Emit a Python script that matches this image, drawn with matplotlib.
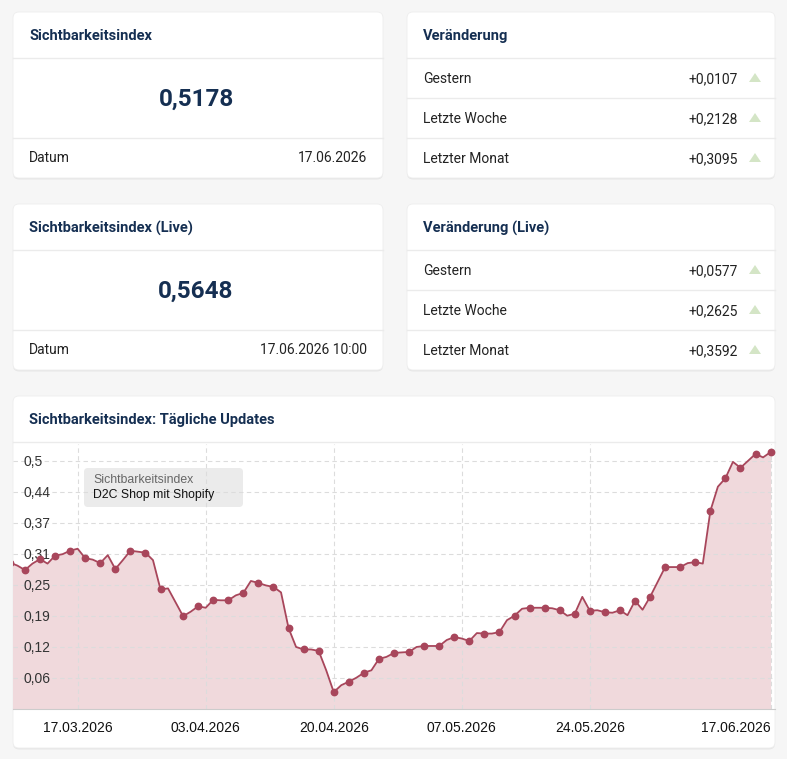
import numpy as np
import pandas as pd
import matplotlib
matplotlib.use("Agg")
import matplotlib.pyplot as plt
from matplotlib.patches import FancyBboxPatch, Polygon

# --- data -------------------------------------------------------------
dates = pd.date_range("2026-03-08", "2026-06-17").drop(pd.Timestamp("2026-03-30"))
values = [
    0.295, 0.289, 0.280, 0.293, 0.302, 0.293, 0.309, 0.312, 0.319, 0.323,  # 08.03-17.03
    0.304, 0.301, 0.294, 0.310, 0.282, 0.300, 0.319, 0.317, 0.315, 0.300,  # 18.03-27.03
    0.241, 0.243, 0.187,                                                    # 28.03, 29.03, 31.03
    0.196, 0.207, 0.204, 0.220, 0.219, 0.219, 0.229, 0.234, 0.258, 0.254,  # 01.04-10.04
    0.249, 0.246, 0.235, 0.163, 0.125, 0.120, 0.120, 0.117, 0.078, 0.034,  # 11.04-20.04
    0.048, 0.055, 0.063, 0.073, 0.078, 0.101, 0.105, 0.113, 0.114, 0.115,  # 21.04-30.04
    0.125, 0.127, 0.127, 0.127, 0.139, 0.145, 0.142, 0.137, 0.153, 0.152,  # 01.05-10.05
    0.152, 0.155, 0.179, 0.188, 0.202, 0.204, 0.204, 0.204, 0.203, 0.199,  # 11.05-20.05
    0.188, 0.192, 0.226, 0.198, 0.199, 0.195, 0.194, 0.199, 0.189, 0.218,  # 21.05-30.05
    0.200,                                                                  # 31.05
    0.226, 0.256, 0.286, 0.286, 0.286, 0.294, 0.296, 0.293, 0.399, 0.448,  # 01.06-10.06
    0.465, 0.498, 0.486, 0.500, 0.514, 0.507, 0.5178,                      # 11.06-17.06
]

tick_dates = pd.to_datetime(["2026-03-17", "2026-04-03", "2026-04-20",
                             "2026-05-07", "2026-05-24", "2026-06-17"])
tick_labels = ["17.03.2026", "03.04.2026", "20.04.2026",
               "07.05.2026", "24.05.2026", "17.06.2026"]
y_ticks = [0.0625, 0.125, 0.1875, 0.25, 0.3125, 0.375, 0.4375, 0.5]
y_labels = ["0,06", "0,12", "0,19", "0,25", "0,31", "0,37", "0,44", "0,5"]

index_value = "0,5178"
index_date = "17.06.2026"
live_value = "0,5648"
live_date = "17.06.2026 10:00"
change_rows = ["Gestern", "Letzte Woche", "Letzter Monat"]
change_vals = ["+0,0107", "+0,2128", "+0,3095"]
change_live_vals = ["+0,0577", "+0,2625", "+0,3592"]

# --- styles -----------------------------------------------------------
W, H = 787, 759
NAVY = "#152f52"
TEXT = "#222222"
LINE = "#a8465b"
FILL = "#f0d9dc"
DIV = "#ebebeb"
GREEN = "#d4e5c6"

plt.rcParams["font.family"] = ["Roboto", "DejaVu Sans"]

fig = plt.figure(figsize=(W / 100, H / 100), dpi=100, facecolor="#f6f6f6")
bg = fig.add_axes([0, 0, 1, 1])
bg.set_xlim(0, W)
bg.set_ylim(H, 0)
bg.axis("off")


def card(x0, y0, x1, y1):
    sh = FancyBboxPatch((x0, y0 + 1.5), x1 - x0, y1 - y0,
                        boxstyle="round,pad=0,rounding_size=6",
                        fc="#000000", ec="none", alpha=0.06)
    bg.add_patch(sh)
    c = FancyBboxPatch((x0, y0), x1 - x0, y1 - y0,
                       boxstyle="round,pad=0,rounding_size=6",
                       fc="white", ec="#eeeeee", lw=0.6)
    bg.add_patch(c)


def hline(x0, x1, y):
    bg.plot([x0, x1], [y, y], color=DIV, lw=1)


def value_card(y0, title, value, date):
    card(13, y0, 383, y0 + 166)
    bg.text(29, y0 + 24, title, fontsize=10.5, fontweight="bold", color=NAVY, va="center")
    hline(13, 383, y0 + 46)
    bg.text(196, y0 + 87, value, fontsize=17.5, fontweight="bold", color=NAVY,
            ha="center", va="center")
    hline(13, 383, y0 + 126)
    bg.text(29, y0 + 146, "Datum", fontsize=10, color=TEXT, va="center")
    bg.text(367, y0 + 146, date, fontsize=10, color=TEXT, va="center", ha="right")


def change_card(y0, title, vals):
    card(407, y0, 775, y0 + 166)
    bg.text(423, y0 + 24, title, fontsize=10.5, fontweight="bold", color=NAVY, va="center")
    for i, (lab, v) in enumerate(zip(change_rows, vals)):
        yy = y0 + 46 + 40 * i
        hline(407, 775, yy)
        yc = yy + 21
        bg.text(423, yc, lab, fontsize=10, color=TEXT, va="center")
        bg.text(738, yc, v, fontsize=10, color=TEXT, va="center", ha="right")
        bg.add_patch(Polygon([[749, yc + 3], [761, yc + 3], [755, yc - 6]],
                             closed=True, fc=GREEN, ec="none"))


value_card(12, "Sichtbarkeitsindex", index_value, index_date)
change_card(12, "Veränderung", change_vals)
value_card(204, "Sichtbarkeitsindex (Live)", live_value, live_date)
change_card(204, "Veränderung (Live)", change_live_vals)

# chart card
card(13, 396, 775, 748)
bg.text(29, 420, "Sichtbarkeitsindex: Tägliche Updates", fontsize=10.5,
        fontweight="bold", color=NAVY, va="center")
hline(13, 775, 442)

# --- chart ------------------------------------------------------------
ax = fig.add_axes([13 / W, (H - 709) / H, (775 - 13) / W, (709 - 444) / H])
ax.patch.set_alpha(0)

ax.fill_between(dates, values, 0, color=FILL, lw=0, zorder=1)
start = (len(values) - 1) % 2
ax.plot(dates, values, color=LINE, lw=1.3, marker="o", ms=4.6,
        markevery=slice(start, None, 2), zorder=3)

ax.set_xlim(dates[0] + pd.Timedelta(hours=10), dates[-1] + pd.Timedelta(hours=14))
ax.set_ylim(0, 0.534)

ax.set_yticks(y_ticks)
ax.set_yticklabels(y_labels, family=["Liberation Sans"], fontsize=10, color="#333333")
ax.tick_params(axis="y", length=0, pad=-7.5)
for t in ax.get_yticklabels():
    t.set_ha("left")

ax.set_xticks(tick_dates)
ax.set_xticklabels(tick_labels, family=["Liberation Sans"], fontsize=10, color="#111111")
ax.tick_params(axis="x", length=0, pad=9)
ax.get_xticklabels()[-1].set_ha("right")

ax.grid(True, color="#dcdcdc", ls=(0, (4, 3)), lw=0.8, zorder=0)
for s in ["top", "left", "right"]:
    ax.spines[s].set_visible(False)
ax.spines["bottom"].set_color("#cccccc")

# legend-like label box
lg = FancyBboxPatch((84, 468), 159, 39, boxstyle="round,pad=0,rounding_size=4",
                    fc="#ebebeb", ec="none", zorder=5)
bg.add_patch(lg)
bg.set_zorder(ax.get_zorder() - 1)

ax.text(0.105, 0.866, "Sichtbarkeitsindex", transform=ax.transAxes,
        family=["Liberation Sans"], fontsize=8.8, color="#666666", va="center", zorder=6)
ax.text(0.105, 0.806, "D2C Shop mit Shopify", transform=ax.transAxes,
        family=["Liberation Sans"], fontsize=8.8, color="#111111", va="center", zorder=6)

fig.savefig("out.png", dpi=100, facecolor=fig.get_facecolor())
